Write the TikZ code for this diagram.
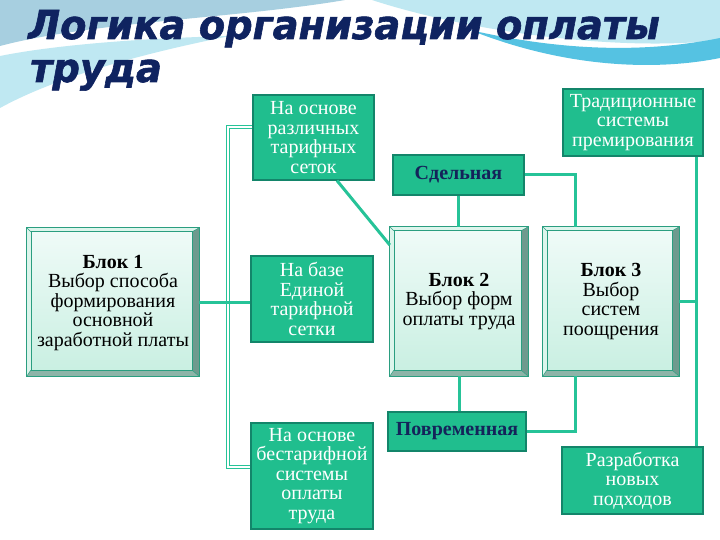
\documentclass[tikz,border=0pt]{standalone}
\usepackage{fontspec}
\setmainfont{Liberation Serif}
\newfontfamily\titlefont{DejaVu Sans}[BoldItalicFeatures={FakeBold=1.5}]
\usetikzlibrary{calc}
\definecolor{tealfill}{HTML}{20BE8E}
\definecolor{tealdark}{HTML}{13856A}
\definecolor{linecol}{HTML}{26C398}
\definecolor{navy}{HTML}{14235A}
\definecolor{titlenavy}{HTML}{0F2360}
\definecolor{blockborder}{HTML}{2A9E80}
\definecolor{bevdark}{HTML}{6E9A8E}
\definecolor{bevmid}{HTML}{8DB4A8}
\definecolor{bevlight}{HTML}{DDF5EC}
\definecolor{mintA}{HTML}{F0FBF8}
\definecolor{mintB}{HTML}{C8EFE1}
\definecolor{skyA}{HTML}{A7CFE0}
\definecolor{skyB}{HTML}{BFE8F2}
\definecolor{skyC}{HTML}{55C2E2}
\newcommand\blockbevel[1]{%
  \fill[bevlight] (#1.north west) -- (#1.north east) -- ([shift={(-7,4)}]#1.north east) -- ([shift={(4,4)}]#1.north west) -- cycle;
  \fill[bevlight] (#1.north west) -- ([shift={(4,4)}]#1.north west) -- ([shift={(4,-6)}]#1.south west) -- (#1.south west) -- cycle;
  \fill[bevdark] (#1.north east) -- (#1.south east) -- ([shift={(-7,-6)}]#1.south east) -- ([shift={(-7,4)}]#1.north east) -- cycle;
  \fill[bevmid] (#1.south west) -- (#1.south east) -- ([shift={(-7,-6)}]#1.south east) -- ([shift={(4,-6)}]#1.south west) -- cycle;
  \draw[blockborder, line width=0.8pt] (#1.north west) rectangle (#1.south east);
  \draw[blockborder, line width=0.6pt] ([shift={(4,4)}]#1.north west) rectangle ([shift={(-7,-6)}]#1.south east);
  \draw[blockborder, line width=0.5pt] (#1.north west) -- ([shift={(4,4)}]#1.north west);
  \draw[blockborder, line width=0.5pt] (#1.north east) -- ([shift={(-7,4)}]#1.north east);
  \draw[blockborder, line width=0.5pt] (#1.south east) -- ([shift={(-7,-6)}]#1.south east);
  \draw[blockborder, line width=0.5pt] (#1.south west) -- ([shift={(4,-6)}]#1.south west);
}
\begin{document}
\begin{tikzpicture}[x=1pt,y=-1pt,
  tbox/.style={draw=tealdark, fill=tealfill, line width=1.2pt, text=white,
    font=\fontsize{20}{19.5}\selectfont, align=center, inner sep=0pt},
  nbox/.style={tbox, text=navy, font=\fontsize{20}{20}\selectfont\bfseries},
  block/.style={top color=mintA, bottom color=mintB, align=center, inner sep=0pt,
    text=black, font=\fontsize{20}{19.5}\selectfont},
  btext/.style={align=center, font=\fontsize{20}{19.5}\selectfont},
  conn/.style={linecol, line width=3pt},
  trunk/.style={linecol, line width=1.3pt, double=white, double distance=1.6pt},
  ttl/.style={font=\titlefont\bfseries\itshape\fontsize{40}{44}\selectfont, inner sep=0pt,
    anchor=base west, text=titlenavy, transform shape, xscale=0.96}
]
\useasboundingbox (0,0) rectangle (720,540);
\fill[white] (0,0) rectangle (720,540);
% decorative background swooshes
\fill[skyA] (0,0) -- (345,0) .. controls (240,18) and (90,22) .. (0,46) -- cycle;
\fill[skyB] (0,56) .. controls (60,44) and (150,38) .. (230,36) .. controls (150,52) and (60,75) .. (0,108) -- cycle;
\fill[skyB] (372,0) -- (720,0) -- (720,40) .. controls (620,52) and (470,32) .. (372,0) -- cycle;
\fill[skyC] (470,30) .. controls (580,55) and (660,50) .. (720,38) -- (720,58) .. controls (650,72) and (560,66) .. (470,30) -- cycle;
% title
\node[ttl] (t1) at (28,39) {Логика организации оплаты};
\node[ttl] (t2) at (30,82) {труда};
% nodes
\node[tbox, minimum width=121, minimum height=85] (s1) at (313.5,137.5) {На основе\\различных\\тарифных\\сеток};
\node[tbox, minimum width=140, minimum height=67] (trad) at (633,122.5) {Традиционные\\системы\\премирования};
\node[nbox, minimum width=131, minimum height=40] (sdel) at (458.5,175) {Сдельная};
\node[block, minimum width=172, minimum height=148] (b1) at (113,302) {};
\node[tbox, minimum width=122, minimum height=86] (s2) at (312,299) {На базе\\Единой\\тарифной\\сетки};
\node[block, minimum width=138, minimum height=149] (b2) at (459,301.5) {};
\node[block, minimum width=136, minimum height=149] (b3) at (611,301.5) {};
\node[tbox, minimum width=122, minimum height=106] (s3) at (312,476) {На основе\\бестарифной\\системы\\оплаты\\труда};
\node[nbox, minimum width=138, minimum height=39] (pov) at (457,431.5) {Повременная};
\node[tbox, minimum width=141, minimum height=67] (raz) at (632.5,480.5) {Разработка\\новых\\подходов};
\blockbevel{b1}
\blockbevel{b2}
\blockbevel{b3}
\node[btext] (b1t) at ([yshift=-1pt]b1.center) {\textbf{Блок 1}\\Выбор способа\\формирования\\основной\\заработной платы};
\node[btext] (b2t) at (b2.center) {\textbf{Блок 2}\\Выбор форм\\оплаты труда};
\node[btext] (b3t) at (b3.center) {\textbf{Блок 3}\\Выбор\\систем\\поощрения};
% connectors
\coordinate (tk) at (228,0);
\coordinate (rt) at ([xshift=63pt]trad.south);
\draw[trunk] ([yshift=10.5pt]s1.west) -- ([yshift=10.5pt]s1.west -| tk) -- ([yshift=9pt]s3.west -| tk) -- ([yshift=9pt]s3.west);
\draw[conn] (b1.east) -- (b1.east -| s2.west);
\draw[conn] ([xshift=23.5pt]s1.south) -- ([yshift=56.5pt]b2.west);
\draw[conn] (sdel.south) -- (sdel.south |- b2.north);
\draw[conn] (sdel.east) -| ([xshift=-36pt]b3.north);
\draw[conn] ([xshift=-36pt]b3.south) |- (pov.east);
\draw[conn] (b2.south) -- (b2.south |- pov.north);
\draw[conn] (rt) -- (rt |- raz.north);
\draw[conn] (b3.east) -- (b3.east -| rt);
\end{tikzpicture}
\end{document}
